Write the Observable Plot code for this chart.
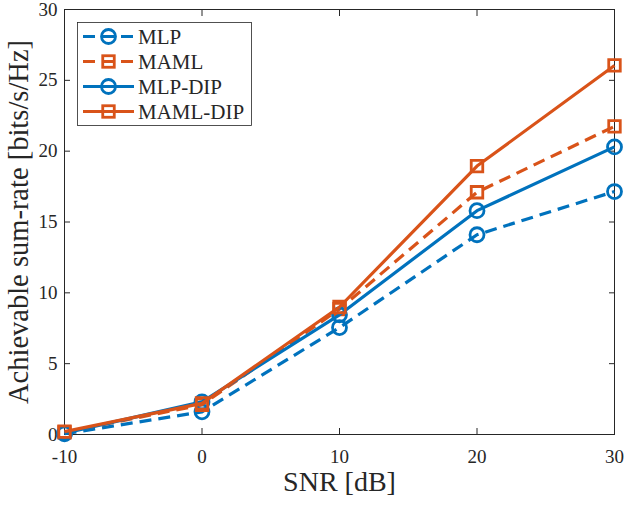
<!DOCTYPE html>
<html>
<head>
<meta charset="utf-8">
<script src="https://cdn.jsdelivr.net/npm/d3@7"></script>
<script src="https://cdn.jsdelivr.net/npm/@observablehq/plot@0.6"></script>
<style>
  html, body { margin: 0; padding: 0; background: white; }
</style>
</head>
<body>
<div id="chart"></div>
<script>
const snr = [-10, 0, 10, 20, 30];
const mlp = [0.05, 1.6, 7.55, 14.1, 17.15];
const maml = [0.15, 2.1, 8.85, 17.1, 21.75];
const mlpDip = [0.1, 2.3, 8.45, 15.8, 20.3];
const mamlDip = [0.2, 2.2, 9.0, 18.95, 26.05];

const seriesNames = ["MLP", "MAML", "MLP-DIP", "MAML-DIP"];
const seriesValues = [mlp, maml, mlpDip, mamlDip];
const seriesColors = ["#0072BD", "#D95319", "#0072BD", "#D95319"];
const seriesDashed = [true, true, false, false];
const seriesSymbols = ["circle", "square", "circle", "square"];

const xTicks = [-10, 0, 10, 20, 30];
const yTicks = [0, 5, 10, 15, 20, 25, 30];
const xLabel = "SNR [dB]";
const yLabel = "Achievable sum-rate [bits/s/Hz]";

const FONT = "'Liberation Serif', 'Times New Roman', serif";
const AX = "#262626";
const DASH = "12,7";
const LW = 3.2;

const lineMarks = [];
seriesNames.forEach((name, i) => {
  const rows = snr.map((x, j) => ({x, y: seriesValues[i][j], name}));
  lineMarks.push(Plot.line(rows, {
    x: "x", y: "y", stroke: seriesColors[i], strokeWidth: LW,
    strokeDasharray: seriesDashed[i] ? DASH : null, strokeLinecap: "butt", strokeLinejoin: "round"
  }));
  lineMarks.push(Plot.dot(rows, {
    x: "x", y: "y", symbol: seriesSymbols[i], r: seriesSymbols[i] === "circle" ? 7 : 6.5,
    fill: "none", stroke: seriesColors[i], strokeWidth: 2.8
  }));
});

const chart = Plot.plot({
  width: 624,
  height: 522,
  marginLeft: 64,
  marginRight: 10,
  marginTop: 9,
  marginBottom: 88,
  style: {fontFamily: FONT, background: "white", color: AX, overflow: "visible"},
  x: {domain: [-10, 30]},
  y: {domain: [0, 30]},
  marks: [
    Plot.frame({stroke: AX, strokeWidth: 1}),
    Plot.axisX({ticks: xTicks, tickSize: -6, tickPadding: 21, fontSize: 19, label: null, tickFormat: d => String(d)}),
    Plot.axisX({anchor: "top", ticks: xTicks, tickSize: -6, label: null, tickFormat: () => ""}),
    Plot.axisY({ticks: yTicks, tickSize: -6, tickPadding: 13, fontSize: 19, label: null, tickFormat: d => String(d)}),
    Plot.axisY({anchor: "right", ticks: yTicks, tickSize: -6, label: null, tickFormat: () => ""}),
    Plot.text([xLabel], {frameAnchor: "bottom", dy: 48, fontSize: 28, fill: AX, textAnchor: "middle", lineAnchor: "middle"}),
    Plot.text([yLabel], {frameAnchor: "left", dx: -46, rotate: -90, fontSize: 28.5, fill: AX, textAnchor: "middle", lineAnchor: "middle"}),
    ...lineMarks
  ]
});

document.getElementById("chart").appendChild(chart);

// Legend
const svg = d3.select(chart.tagName.toLowerCase() === "svg" ? chart : chart.querySelector("svg"));
const lg = svg.append("g").attr("font-family", FONT).attr("text-anchor", "start");
lg.append("rect")
  .attr("x", 77.5).attr("y", 22.5).attr("width", 174).attr("height", 103)
  .attr("fill", "white").attr("stroke", AX).attr("stroke-width", 0.8);
const sq = 6.5 * Math.sqrt(Math.PI);
seriesNames.forEach((name, i) => {
  const cy = 36.5 + 25 * i;
  const row = lg.append("g");
  row.append("line")
    .attr("x1", 83).attr("x2", 134).attr("y1", cy).attr("y2", cy)
    .attr("stroke", seriesColors[i]).attr("stroke-width", LW)
    .attr("stroke-dasharray", seriesDashed[i] ? DASH : null);
  if (seriesSymbols[i] === "circle") {
    row.append("circle").attr("cx", 108.5).attr("cy", cy).attr("r", 7)
      .attr("fill", "none").attr("stroke", seriesColors[i]).attr("stroke-width", 2.8);
  } else {
    row.append("rect").attr("x", 108.5 - sq / 2).attr("y", cy - sq / 2)
      .attr("width", sq).attr("height", sq)
      .attr("fill", "none").attr("stroke", seriesColors[i]).attr("stroke-width", 2.8);
  }
  row.append("text").attr("x", 138).attr("y", cy).attr("dy", "0.35em")
    .attr("text-anchor", "start")
    .attr("font-size", 21).attr("fill", AX).text(name);
});
</script>
</body>
</html>
